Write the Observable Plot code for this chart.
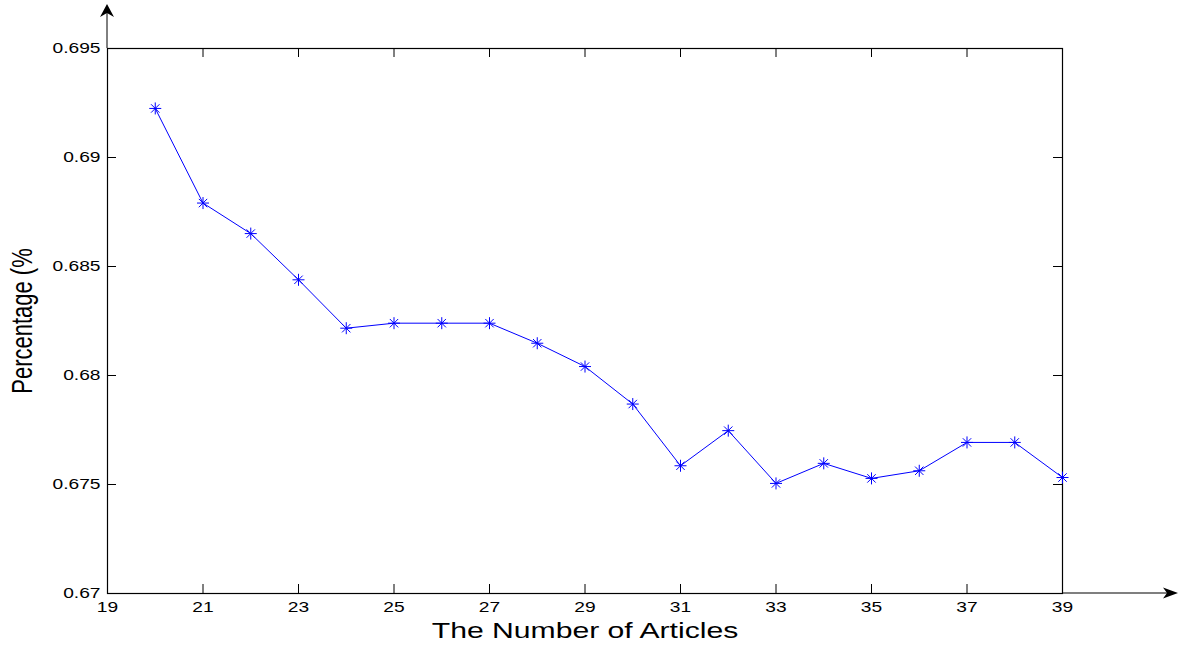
<!DOCTYPE html>
<html><head><meta charset="utf-8">
<script src="https://cdn.jsdelivr.net/npm/d3@7"></script>
<script src="https://cdn.jsdelivr.net/npm/@observablehq/plot@0.6"></script>
<style>
html,body{margin:0;padding:0;background:#fff}
</style>
</head><body><div id="chart"></div>
<script>
const articles = [20,21,22,23,24,25,26,27,28,29,30,31,32,33,34,35,36,37,38,39];
const percentage = [0.69225,0.68791,0.68651,0.68439,0.68217,0.6824,0.6824,0.6824,0.68148,0.68041,0.67869,0.67586,0.67747,0.67505,0.67597,0.67528,0.67563,0.67693,0.67693,0.67532];
const xTicks = [19,21,23,25,27,29,31,33,35,37,39];
const yTicks = [0.67,0.675,0.68,0.685,0.69,0.695];
const xLabel = "The Number of Articles";
const yLabel = "Percentage (%";

const W = 1184, H = 646, mt = 48, mr = 122, mb = 53, ml = 107;
const fw = W - ml - mr, fh = H - mt - mb;
const tickLen = 9;
const data = articles.map((a, i) => ({x: a, y: percentage[i]}));

const asterisk = {
  draw(ctx, size) {
    const r = Math.sqrt(size / Math.PI);
    const d = r * 0.7;
    ctx.moveTo(-r, 0); ctx.lineTo(r, 0);
    ctx.moveTo(0, -r); ctx.lineTo(0, r);
    ctx.moveTo(-d, -d); ctx.lineTo(d, d);
    ctx.moveTo(-d, d); ctx.lineTo(d, -d);
  }
};

const plot = Plot.plot({
  width: W, height: H,
  marginTop: mt, marginRight: mr, marginBottom: mb, marginLeft: ml,
  style: {fontFamily: "'Liberation Sans', Arial, sans-serif", fontSize: "14px", background: "#fff", color: "#000", overflow: "visible"},
  x: {domain: [19, 39]},
  y: {domain: [0.67, 0.695]},
  marks: [
    Plot.ruleX(xTicks.slice(1, -1), {insetTop: fh - tickLen, stroke: "#000"}),
    Plot.ruleX(xTicks.slice(1, -1), {insetBottom: fh - tickLen, stroke: "#000"}),
    Plot.ruleY(yTicks.slice(1, -1), {insetRight: fw - tickLen, stroke: "#000"}),
    Plot.ruleY(yTicks.slice(1, -1), {insetLeft: fw - tickLen, stroke: "#000"}),
    Plot.frame({stroke: "#000", strokeWidth: 1.2}),
    Plot.axisX(xTicks, {tickSize: 0, tickPadding: 9, label: null, fontSize: 14, fill: "#000"}),
    Plot.axisY(yTicks, {tickSize: 0, tickPadding: 7, label: null, fontSize: 14, fill: "#000", tickFormat: d => String(+d.toFixed(3))}),
    Plot.line(data, {x: "x", y: "y", stroke: "#0000ff", strokeWidth: 1}),
    Plot.dot(data, {x: "x", y: "y", symbol: asterisk, r: 6, stroke: "#0000ff", strokeWidth: 1}),
    Plot.text([xLabel], {text: d => d, frameAnchor: "bottom", textAnchor: "middle", lineAnchor: "middle", dy: 37, fontSize: 22, fill: "#000"}),
    Plot.text([yLabel], {text: d => d, frameAnchor: "left", textAnchor: "middle", lineAnchor: "middle", dx: -85, rotate: -90, fontSize: 22, fill: "#000"})
  ]
});

// stretch text horizontally like the reference
const S = 1.37;
d3.select(plot).selectAll("text").each(function() {
  const el = this;
  const t = el.getAttribute("transform") || "";
  const x = parseFloat(el.getAttribute("x")) || 0, y = parseFloat(el.getAttribute("y")) || 0;
  const sc = t.includes("rotate") ? `scale(1,${S})` : `scale(${S},1)`;
  el.setAttribute("transform", `${t} translate(${x},${y}) ${sc} translate(${-x},${-y})`);
});

// axis arrows
const sx = plot.scale("x"), sy = plot.scale("y");
const x0 = sx.apply(19), x1 = sx.apply(39), yTop = sy.apply(0.695), yBot = sy.apply(0.67);
const svg = d3.select(plot);
const g = svg.append("g").attr("fill", "#000").attr("stroke", "#000");
g.append("line").attr("x1", x0).attr("y1", yTop).attr("x2", x0).attr("y2", yTop - 38).attr("stroke-width", 1);
g.append("path").attr("stroke", "none")
  .attr("d", `M${x0},${yTop - 44} L${x0 - 7},${yTop - 31} L${x0},${yTop - 35} L${x0 + 7},${yTop - 31} Z`);
g.append("line").attr("x1", x1).attr("y1", yBot).attr("x2", x1 + 110).attr("y2", yBot).attr("stroke-width", 1.2);
g.append("path").attr("stroke", "none")
  .attr("d", `M${x1 + 116},${yBot} L${x1 + 101},${yBot - 5.5} L${x1 + 105},${yBot} L${x1 + 101},${yBot + 5.5} Z`);

document.getElementById("chart").appendChild(plot);
</script>
</body></html>
